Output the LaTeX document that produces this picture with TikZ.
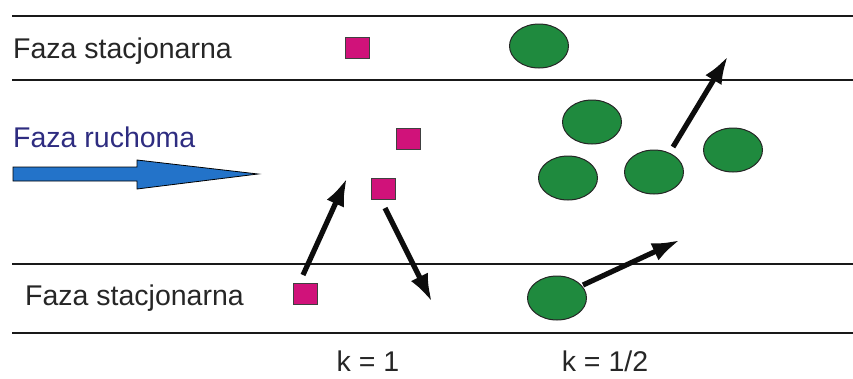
\documentclass[tikz,border=0pt]{standalone}
\usepackage{fontspec}
\setmainfont{Liberation Sans}
\usetikzlibrary{arrows.meta,shapes.geometric}
\definecolor{molA}{HTML}{D0127A}
\definecolor{molB}{HTML}{1F8A3E}
\definecolor{flow}{HTML}{2373C9}
\definecolor{labelblue}{HTML}{2E2C80}
\tikzset{
  phase/.style={line width=2.6pt, black!90},
  label/.style={font=\fontsize{28.5}{32}\selectfont, inner sep=0pt, text=black!85},
  molsq/.style={draw=black!75, line width=1pt, fill=molA, minimum width=24pt, minimum height=21pt, inner sep=0pt},
  molel/.style={draw=black!85, line width=1pt, fill=molB, ellipse, minimum width=59pt, minimum height=44pt, inner sep=0pt},
  move/.style={line width=5.2pt, black!95, -{Latex[length=28pt,width=19pt]}},
}
\begin{document}
\begin{tikzpicture}[x=1pt,y=-1pt]
  \useasboundingbox (0,0) rectangle (853,378);

  % phase boundaries
  \draw[phase] (12,16) -- (853,16);
  \draw[phase] (12,80) -- (853,80);
  \draw[phase] (12,264) -- (853,264);
  \draw[phase] (12,333) -- (853,333);

  % labels
  \node[label, anchor=base west] (stat1) at (13,58) {Faza stacjonarna};
  \node[label, anchor=base west] (stat2) at (25,305) {Faza stacjonarna};
  \node[label, anchor=base west, text=labelblue] (mobile) at (13,147) {Faza ruchoma};
  \node[label, anchor=base] (k1) at (368,371) {k = 1};
  \node[label, anchor=base] (k2) at (605,371) {k = 1/2};

  % flow direction of the mobile phase
  \draw[line width=0.8pt, fill=flow]
    (13,167) -- (137,167) -- (137,160) -- (258,174) -- (137,189) -- (137,181) -- (13,181) -- cycle;

  % solute with k = 1
  \node[molsq] (s1) at (357,47.5) {};
  \node[molsq] (s2) at (408.5,138.5) {};
  \node[molsq] (s3) at (383,188.5) {};
  \node[molsq] (s4) at (305.5,294) {};

  % solute with k = 1/2
  \node[molel] (e1) at (539,46) {};
  \node[molel] (e2) at (592,122) {};
  \node[molel] (e3) at (568,178) {};
  \node[molel] (e4) at (654,172) {};
  \node[molel] (e5) at (733,150) {};
  \node[molel] (e6) at (557,298) {};

  % motion of the molecules
  \coordinate (a1s) at (303,275);
  \coordinate (a1e) at (347,178);
  \coordinate (a2s) at (385,208);
  \coordinate (a2e) at (432,302);
  \coordinate (a3s) at (673,147);
  \coordinate (a3e) at (728,56);
  \coordinate (a4s) at (583,285);
  \coordinate (a4e) at (680,240);
  \draw[move] (a1s) -- (a1e);
  \draw[move] (a2s) -- (a2e);
  \draw[move] (a3s) -- (a3e);
  \draw[move] (a4s) -- (a4e);
\end{tikzpicture}
\end{document}
